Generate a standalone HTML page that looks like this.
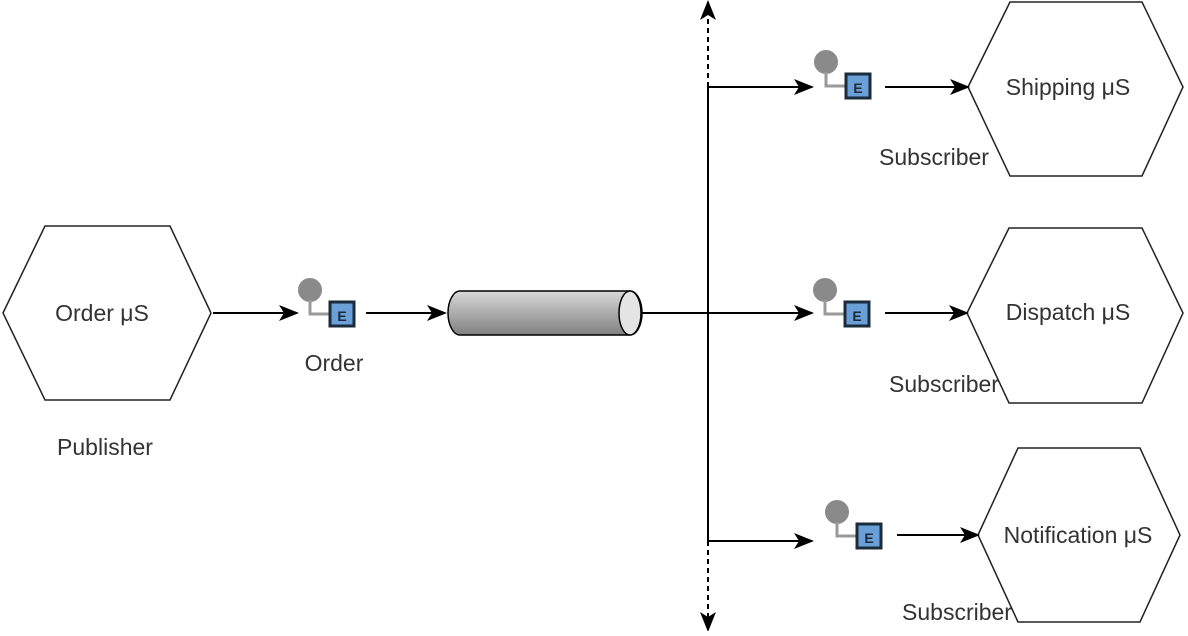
<!DOCTYPE html>
<html><head><meta charset="utf-8"><style>
html,body{margin:0;padding:0;background:#fff;}
svg text{font-family:"Liberation Sans",sans-serif;font-size:23px;fill:#333;}
</style></head><body>
<svg width="1188" height="631" viewBox="0 0 1188 631" xmlns="http://www.w3.org/2000/svg">
<defs>
<marker id="ah" markerWidth="20" markerHeight="20" refX="18" refY="10" orient="auto" markerUnits="userSpaceOnUse">
<path d="M0,2 L20,10 L0,18 L5,10 Z" fill="#000"/></marker>
<linearGradient id="cg" x1="0" y1="0" x2="0" y2="1">
<stop offset="0" stop-color="#d8d8d8"/><stop offset="0.5" stop-color="#acacac"/><stop offset="1" stop-color="#808080"/></linearGradient>
<g id="ev">
<circle cx="0" cy="0" r="12" fill="#8a8a8a"/>
<path d="M0,10 V24 H20" fill="none" stroke="#9a9a9a" stroke-width="3"/>
<rect x="20" y="12" width="24" height="24" fill="#6a9fd8" stroke="#1b2b3a" stroke-width="3"/>
<text x="32" y="31" text-anchor="middle" style="font-size:14px;font-weight:bold;fill:#1b2b3a">E</text>
</g>
</defs>
<g fill="#fff" stroke="#222" stroke-width="1.5">
<polygon points="3,313 45,226 170,226 211,313 170,400 45,400"/>
<polygon points="968,87 1010,2 1142,2 1183,87 1142,176 1010,176"/>
<polygon points="967,313 1009,228 1142,228 1183,313 1142,403 1009,403"/>
<polygon points="978,535 1018,448 1140,448 1180,535 1140,622 1018,622"/>
</g>
<g stroke="#000" stroke-width="2" fill="none">
<line x1="213" y1="313" x2="297" y2="313" marker-end="url(#ah)"/>
<line x1="366" y1="313" x2="445" y2="313" marker-end="url(#ah)"/>
<line x1="642" y1="313" x2="812" y2="313" marker-end="url(#ah)"/>
<line x1="708" y1="87" x2="708" y2="541"/>
<line x1="708" y1="87" x2="812" y2="87" marker-end="url(#ah)"/>
<line x1="708" y1="541" x2="812" y2="541" marker-end="url(#ah)"/>
<line x1="708" y1="87" x2="708" y2="2" stroke-dasharray="5,4" marker-end="url(#ah)"/>
<line x1="708" y1="541" x2="708" y2="630" stroke-dasharray="5,4" marker-end="url(#ah)"/>
<line x1="885" y1="87" x2="968" y2="87" marker-end="url(#ah)"/>
<line x1="885" y1="313" x2="967" y2="313" marker-end="url(#ah)"/>
<line x1="897" y1="535" x2="978" y2="535" marker-end="url(#ah)"/>
</g>
<path d="M460,291 H630 A12,22 0 0 1 630,335 H460 A12,22 0 0 1 460,291 Z" fill="url(#cg)" stroke="#000" stroke-width="1.5"/>
<ellipse cx="630" cy="313" rx="11" ry="22" fill="#e4e4e4" stroke="#000" stroke-width="1.5"/>
<use href="#ev" x="310" y="290"/>
<use href="#ev" x="826" y="62"/>
<use href="#ev" x="825" y="290"/>
<use href="#ev" x="837" y="512"/>
<g text-anchor="middle">
<text x="102" y="321">Order μS</text>
<text x="105" y="455">Publisher</text>
<text x="334" y="371">Order</text>
<text x="1068" y="95">Shipping μS</text>
<text x="934" y="165">Subscriber</text>
<text x="1068" y="320">Dispatch μS</text>
<text x="944" y="392">Subscriber</text>
<text x="1078" y="543">Notification μS</text>
<text x="957" y="620">Subscriber</text>
</g>
</svg>
</body></html>
